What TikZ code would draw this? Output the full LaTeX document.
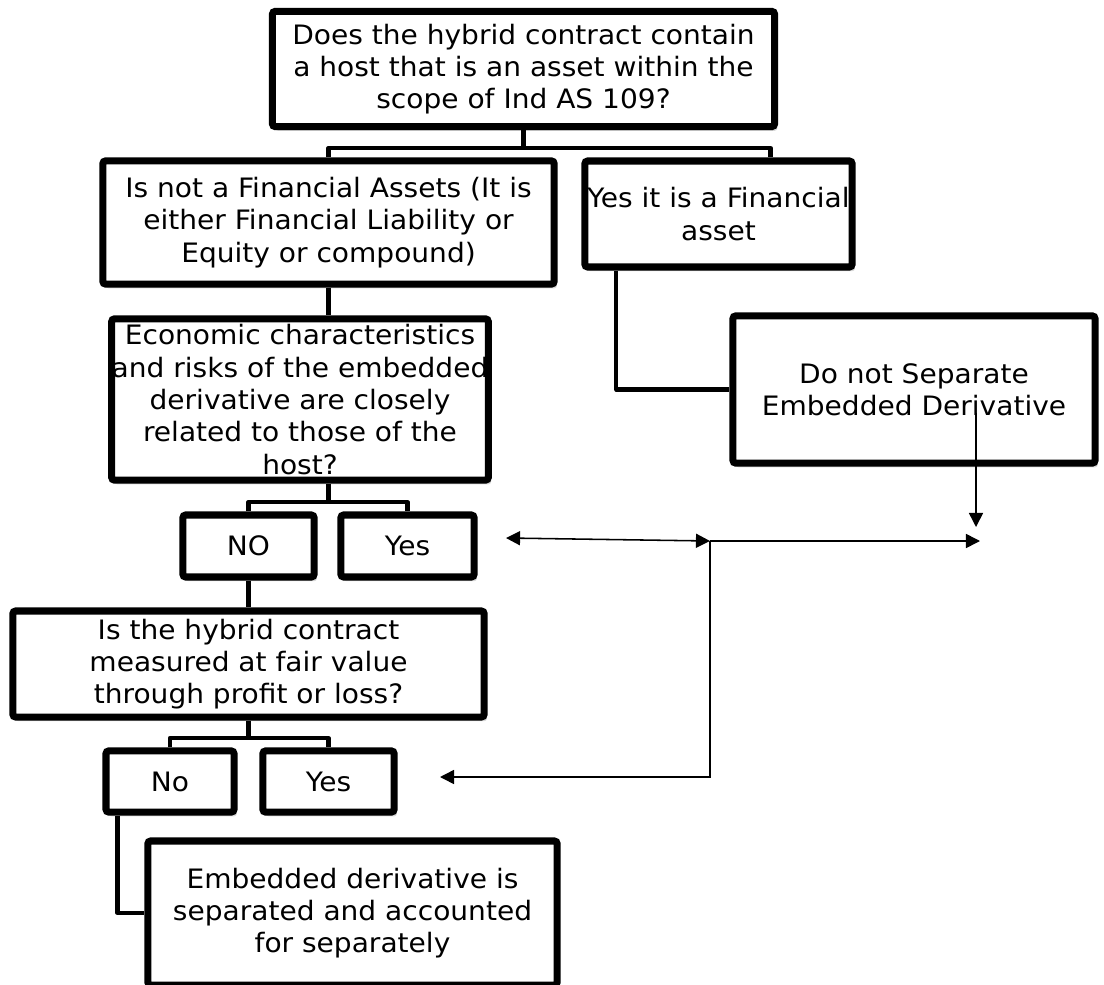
\documentclass[tikz,border=0pt]{standalone}
\usepackage{fontspec}
\setmainfont{DejaVu Sans}[FakeStretch=1.05]
\usetikzlibrary{arrows.meta,shadows}

\tikzset{
  caja/.style={draw,line width=5pt,rounded corners=2pt,fill=white,
    inner sep=0pt,align=center,font=\fontsize{19}{23}\selectfont,
    drop shadow={shadow xshift=2pt,shadow yshift=-3pt,opacity=0.3}},
  enlace/.style={line width=3pt,line join=round},
  punta/.tip={Triangle[length=10pt,width=10pt]},
  flecha/.style={line width=1.1pt,-punta}
}

\begin{document}
\begin{tikzpicture}[x=0.025cm,y=-0.025cm]

  \useasboundingbox (0,0) rectangle (1104,985);

  %-------------------------
  % Cajas
  %-------------------------
  \node[caja,minimum width=12.55cm,minimum height=2.88cm] (A) at (523.5,69)
    {Does the hybrid contract contain\\a host that is an asset within the\\scope of Ind AS 109?};
  \node[caja,minimum width=11.28cm,minimum height=3.08cm] (B) at (328.5,222.5)
    {Is not a Financial Assets (It is\\either Financial Liability or\\Equity or compound)};
  \node[caja,minimum width=6.68cm,minimum height=2.65cm] (C) at (718.5,214)
    {Yes it is a Financial\\asset};
  \node[caja,minimum width=9.1cm,minimum height=4.03cm] (D) at (300,399.5)
    {Economic characteristics\\and risks of the embedded\\derivative are closely\\related to those of the\\host?};
  \node[caja,minimum width=9.05cm,minimum height=3.68cm] (G) at (914,389.5)
    {Do not Separate\\Embedded Derivative};
  \node[caja,minimum width=3.28cm,minimum height=1.55cm] (no1) at (248.5,546) {NO};
  \node[caja,minimum width=3.33cm,minimum height=1.55cm] (si1) at (407.5,546) {Yes};
  \node[caja,minimum width=11.78cm,minimum height=2.65cm] (E) at (248.5,664)
    {Is the hybrid contract\\measured at fair value\\through profit or loss?};
  \node[caja,minimum width=3.2cm,minimum height=1.53cm] (no2) at (170,781.5) {No};
  \node[caja,minimum width=3.28cm,minimum height=1.53cm] (si2) at (328.5,781.5) {Yes};
  \node[caja,minimum width=10.23cm,minimum height=3.6cm] (F) at (352.5,913)
    {Embedded derivative is\\separated and accounted\\for separately};

  %-------------------------
  % Enlaces entre cajas
  %-------------------------
  \coordinate (b1) at (523.5,148);
  \draw[enlace] (A.south) -- (b1);
  \draw[enlace] (B.north) |- (b1) -| ([xshift=1.3cm]C.north);

  \draw[enlace] (B.south) -- (B.south |- D.north);

  \coordinate (b2) at (328.5,502);
  \draw[enlace] (D.south -| B.south) -- (b2);
  \draw[enlace] (no1.north) |- (b2) -| (si1.north);

  \draw[enlace] (no1.south) -- (no1.south |- E.north);

  \coordinate (b3) at (248.5,738);
  \draw[enlace] (E.south) -- (b3);
  \draw[enlace] (no2.north) |- (b3) -| (si2.north);

  \draw[enlace] ([xshift=0.375cm]no2.south west) |- (F.west);
  \draw[enlace] ([xshift=0.875cm]C.south west) |- (G.west);

  %-------------------------
  % Flechas sueltas
  %-------------------------
  \coordinate (j) at (710,541);
  \coordinate (pL) at (506,538);
  \coordinate (pR) at (980,541);
  \coordinate (pE) at (440,777);
  \coordinate (gA) at (976,413);
  \coordinate (gB) at (976,527);

  \draw[flecha,punta-punta] (pL) -- (j);
  \draw[flecha] (j) -- (pR);
  \draw[flecha] (j) |- (pE);
  \draw[flecha] (gA) -- (gB);

\end{tikzpicture}
\end{document}
